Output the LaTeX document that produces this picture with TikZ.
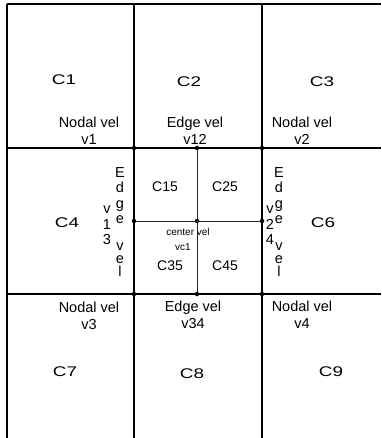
\documentclass[tikz,border=0pt]{standalone}
\usepackage{fontspec}
\setmainfont{Liberation Sans}
\begin{document}
\begin{tikzpicture}[x=1pt,y=-1pt,
  thick line/.style={line width=1.6pt,black},
  thin line/.style={line width=1pt,black!85},
  dot/.style={circle,fill=black,inner sep=0pt,minimum size=4.5pt},
  cell/.style={font=\fontsize{14}{14}\selectfont,xscale=1.35,inner sep=0pt},
  sub/.style={font=\fontsize{14}{14}\selectfont,inner sep=0pt},
  lab/.style={font=\fontsize{14.5}{17}\selectfont,align=center,inner sep=0pt},
  letter/.style={font=\fontsize{14.5}{14}\selectfont,anchor=base,inner sep=0pt},
  small/.style={font=\fontsize{10}{12}\selectfont,inner sep=0pt}]
\useasboundingbox (0,0) rectangle (381,438);
% grid coordinates
\coordinate (TL) at (7,4);
\coordinate (TR) at (381,4);
\coordinate (BL) at (7,438);
\coordinate (Ta) at (134,4);  \coordinate (Ba) at (134,438);
\coordinate (Tb) at (262,4);  \coordinate (Bb) at (262,438);
\coordinate (La) at (7,148);  \coordinate (Ra) at (381,148);
\coordinate (Lb) at (7,294);  \coordinate (Rb) at (381,294);
% junction dots
\node[dot] (n12) at (197,148) {};
\node[dot] (n34) at (197,294) {};
\node[dot] (n13) at (134,221) {};
\node[dot] (n24) at (262,221) {};
\node[dot] (nc) at (197,221) {};
\node[dot] (n1) at (134,148) {};
\node[dot] (n2) at (262,148) {};
\node[dot] (n3) at (134,294) {};
\node[dot] (n4) at (262,294) {};
% labels
\node[cell] (C1) at (64,80) {C1};
\node[cell] (C2) at (189,82) {C2};
\node[cell] (C3) at (322,82) {C3};
\node[cell] (C4) at (67,223) {C4};
\node[cell] (C6) at (323,223) {C6};
\node[cell] (C7) at (65,372) {C7};
\node[cell] (C8) at (192,374) {C8};
\node[cell] (C9) at (331,372) {C9};
\node[sub] (C15) at (165,187) {C15};
\node[sub] (C25) at (225,187) {C25};
\node[sub] (C35) at (170,266) {C35};
\node[sub] (C45) at (225,266) {C45};
\node[small] (cv) at (188,232) {center vel};
\node[small] (vc1) at (183,247) {vc1};
\node[lab] (l1) at (89,131) {Nodal vel\\v1};
\node[lab] (l12) at (195,131) {Edge vel\\v12};
\node[lab] (l2) at (302,131) {Nodal vel\\v2};
\node[lab] (l3) at (89,316) {Nodal vel\\v3};
\node[lab] (l34) at (193,315) {Edge vel\\v34};
\node[lab] (l4) at (302,315) {Nodal vel\\v4};
% vertical texts
\foreach \ch/\yy [count=\i] in {E/178,d/193,g/208,e/223,v/250,e/263,l/276}{
  \node[letter] (le\i) at (120,\yy) {\ch};
  \node[letter] (re\i) at (279,\yy) {\ch};
}
\foreach \ch/\yy [count=\i] in {v/213,1/229,3/244}{
  \node[letter] (lv\i) at (107,\yy) {\ch};
}
\foreach \ch/\yy [count=\i] in {v/213,2/229,4/244}{
  \node[letter] (rv\i) at (270,\yy) {\ch};
}
% lines
\draw[thin line] (n12) -- (n34);
\draw[thin line] (n13) -- (n24);
\draw[thick line] (TL) -- (TR);
\draw[thick line] (TL) -- (BL);
\draw[thick line] (Ta) -- (Ba);
\draw[thick line] (Tb) -- (Bb);
\draw[thick line] (La) -- (Ra);
\draw[thick line] (Lb) -- (Rb);
\end{tikzpicture}
\end{document}
